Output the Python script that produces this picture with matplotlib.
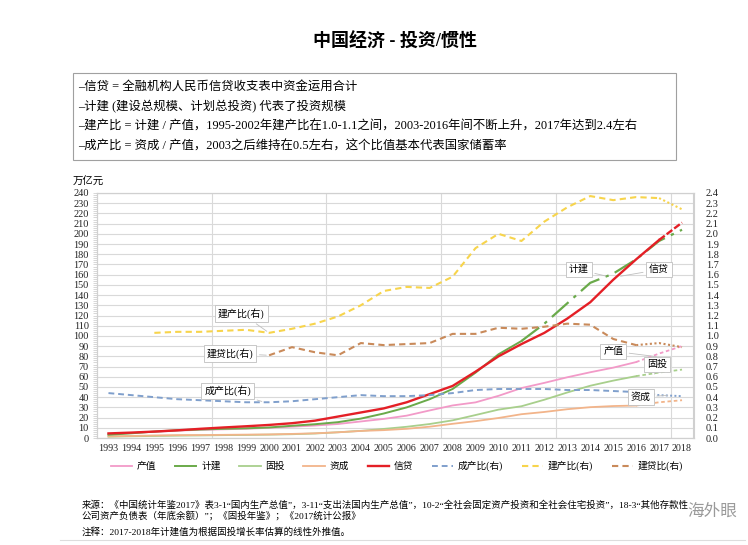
import matplotlib
matplotlib.use("Agg")
import matplotlib.pyplot as plt
import numpy as np
from matplotlib.lines import Line2D
from matplotlib.patches import Rectangle

plt.rcParams['font.family'] = ['Liberation Serif', 'Noto Sans CJK SC', 'DejaVu Sans']

years = list(range(1993, 2019))

# 万亿元 (left axis)
chanzhi = [3.5, 4.9, 6.1, 7.2, 8.0, 8.5, 9.0, 10.0, 11.1, 12.2, 13.7, 16.2, 18.7, 21.9, 27.0,
           31.9, 34.9, 41.3, 48.9, 54.0, 59.5, 64.4, 68.9, 74.4, 82.7, 90.0]
jijian = [3.2, 4.6, 6.3, 7.6, 8.3, 9.0, 9.5, 10.3, 12.0, 13.5, 15.5, 19.0, 24.0, 30.0, 38.0,
          48.0, 64.0, 82.0, 95.0, 112.0, 132.0, 152.0, 161.0, 175.0, 193.0, 204.0]
gutou = [1.3, 1.7, 2.0, 2.3, 2.5, 2.8, 3.0, 3.3, 3.7, 4.4, 5.6, 7.0, 8.9, 11.0, 13.7,
         17.3, 22.5, 27.8, 31.1, 37.5, 44.6, 51.2, 56.2, 60.6, 64.1, 67.0]
zicheng = [1.6, 2.0, 2.5, 2.8, 2.9, 3.1, 3.3, 3.5, 4.0, 4.6, 5.6, 6.9, 7.7, 9.0, 11.1,
           13.9, 16.5, 19.6, 23.3, 25.5, 28.2, 30.2, 31.3, 31.8, 35.0, 37.0]
xindai = [4.5, 5.3, 6.3, 7.5, 9.0, 10.3, 11.5, 12.8, 14.5, 17.0, 21.0, 25.0, 29.0, 35.0, 43.0,
          51.0, 65.0, 80.0, 92.0, 103.0, 117.0, 133.0, 155.0, 175.0, 194.0, 211.0]

# ratios (right axis)
chengchanbi = [0.44, 0.42, 0.40, 0.38, 0.37, 0.36, 0.35, 0.35, 0.36, 0.38, 0.40, 0.42, 0.41,
               0.41, 0.42, 0.44, 0.47, 0.48, 0.48, 0.48, 0.47, 0.47, 0.46, 0.45, 0.42, 0.41]
jianchanbi = [None, None, 1.03, 1.04, 1.04, 1.05, 1.06, 1.03, 1.07, 1.12, 1.19, 1.30, 1.44,
              1.48, 1.47, 1.58, 1.86, 2.00, 1.93, 2.12, 2.26, 2.37, 2.33, 2.36, 2.35, 2.24]
jiandaibi = [None] * 7 + [0.81, 0.89, 0.84, 0.81, 0.93, 0.91, 0.92, 0.93, 1.02, 1.02, 1.08,
                          1.07, 1.09, 1.12, 1.11, 0.97, 0.91, 0.93, 0.89]

labels = ['产值', '计建', '固投', '资成', '信贷', '成产比(右)', '建产比(右)', '建贷比(右)']
colors = ['#f29ac8', '#6aaa4a', '#a8cf8c', '#f2b48a', '#e41f26', '#7f9fcc', '#f7d44c', '#c98a5a']

fig = plt.figure(figsize=(7.48, 5.45), dpi=100)
ax = fig.add_axes([97 / 748, 1 - 438 / 545, (693.5 - 97) / 748, (438 - 193) / 545])
ax2 = ax.twinx()

ax.set_xlim(1992.5, 2018.5)
ax.set_ylim(0, 240)
ax2.set_ylim(0, 2.4)

ax.set_yticks(np.arange(0, 241, 10))
ax2.set_yticks(np.arange(0, 2.41, 0.1))
ax2.set_yticklabels([f"{v:.1f}" for v in np.arange(0, 2.41, 0.1)])
ax.set_xticks(years)
ax.set_xticklabels([str(y) for y in years])
ax.set_yticks(np.arange(0, 241, 2), minor=True)

for a in (ax, ax2):
    for s in a.spines.values():
        s.set_color('#d0d0d0')
        s.set_linewidth(0.8)
    a.tick_params(labelsize=7.4, colors='#222222', length=0, pad=3)
ax.tick_params(axis='y', which='minor', length=3, color='#c8c8c8', width=0.5)
ax.tick_params(axis='y', which='major', length=3, color='#c8c8c8', width=0.5)
ax.tick_params(axis='x', pad=4, labelsize=7.2)
ax2.tick_params(axis='y', pad=9)

ax.grid(axis='y', color='#d9d9d9', linewidth=0.8)
ax.set_axisbelow(True)
for xv in [1997.5, 2002.5, 2007.5, 2012.5, 2017.5]:
    ax.axvline(xv, color='#d9d9d9', linewidth=0.8, zorder=0)

yrs = np.array(years)


def split_plot(a, vals, color, lw, solid_ls, proj_ls, cut, z=3):
    v = np.array([np.nan if x is None else x for x in vals], dtype=float)
    i = years.index(cut)
    a.plot(yrs[:i + 1], v[:i + 1], color=color, lw=lw, ls=solid_ls, zorder=z)
    a.plot(yrs[i:], v[i:], color=color, lw=lw, ls=proj_ls, zorder=z)


split_plot(ax, chanzhi, colors[0], 1.3, '-', (0, (2, 1.5)), 2016)
split_plot(ax, gutou, colors[2], 1.3, '-', (0, (2, 1.5)), 2016)
split_plot(ax, zicheng, colors[3], 1.3, '-', (0, (2, 1.5)), 2016)
# 计建: solid to 2011, long dash-dot after
v = np.array(jijian)
i = years.index(2011)
ax.plot(yrs[:i + 1], v[:i + 1], color=colors[1], lw=1.4, zorder=4)
ax.plot(yrs[i:], v[i:], color=colors[1], lw=1.6, ls=(0, (10, 3, 1.5, 3)), zorder=4)
split_plot(ax, xindai, colors[4], 1.7, '-', (0, (3, 1)), 2017, z=5)

split_plot(ax2, chengchanbi, colors[5], 1.4, (0, (3, 2)), (0, (1, 1.2)), 2016)
split_plot(ax2, jianchanbi, colors[6], 1.5, (0, (3, 2)), (0, (1, 1.2)), 2017)
split_plot(ax2, jiandaibi, colors[7], 1.5, (0, (3, 2)), (0, (1, 1.2)), 2016)

# legend
handles = [
    Line2D([], [], color=colors[0], lw=1.3),
    Line2D([], [], color=colors[1], lw=1.4),
    Line2D([], [], color=colors[2], lw=1.3),
    Line2D([], [], color=colors[3], lw=1.3),
    Line2D([], [], color=colors[4], lw=1.7),
    Line2D([], [], color=colors[5], lw=1.4, ls=(0, (3, 2))),
    Line2D([], [], color=colors[6], lw=1.5, ls=(0, (3, 2))),
    Line2D([], [], color=colors[7], lw=1.5, ls=(0, (3, 2))),
]
fig.legend(handles, labels, loc='center', bbox_to_anchor=(397 / 748, 1 - 466 / 545), ncol=8,
           frameon=False, fontsize=7, handlelength=2.2, columnspacing=1.9, handletextpad=0.5)

# callouts
box = dict(boxstyle='square,pad=0.3', fc='white', ec='#bfbfbf', lw=0.6)
arr = dict(arrowstyle='-', color='#bfbfbf', lw=0.6)


def callout(a, text, x, y, tx, ty):
    a.annotate(text, xy=(x, y), xytext=(tx, ty), fontsize=7.2, bbox=box,
               arrowprops=arr, ha='center', va='center', zorder=10)


callout(ax2, '建产比(右)', 2000, jianchanbi[years.index(2000)], 1998.8, 1.22)
callout(ax2, '建贷比(右)', 2000, jiandaibi[years.index(2000)], 1998.3, 0.83)
callout(ax2, '成产比(右)', 1999.8, chengchanbi[years.index(2000)], 1998.2, 0.46)
callout(ax, '计建', 2014.8, 158, 2013.5, 165)
callout(ax, '信贷', 2015.2, 158, 2017.0, 165)
callout(ax, '产值', 2017.0, chanzhi[years.index(2016)] + 5, 2015.0, 85)
callout(ax, '固投', 2016.8, gutou[years.index(2016)] + 2, 2016.9, 72)
callout(ax2, '资成', 2017.5, chengchanbi[years.index(2017)], 2016.2, 0.40)

fig.text(88 / 748, 1 - 182 / 545, '万亿元', fontsize=7.5, ha='center', va='center')

# title
fig.text(395 / 748, 1 - 42 / 545, '中国经济 - 投资/惯性', fontsize=13, fontweight='bold',
         ha='center', va='center')

# description box
fig.patches.append(Rectangle((73 / 748, 1 - 160 / 545), (676 - 73) / 748, (160 - 73) / 545,
                             transform=fig.transFigure, fill=False, ec='#a0a0a0', lw=0.8))
desc = ['–信贷 = 全融机构人民币信贷收支表中资金运用合计',
        '–计建 (建设总规模、计划总投资) 代表了投资规模',
        '–建产比 = 计建 / 产值，1995-2002年建产比在1.0-1.1之间，2003-2016年间不断上升，2017年达到2.4左右',
        '–成产比 = 资成 / 产值，2003之后维持在0.5左右，这个比值基本代表国家储蓄率']
for k, t in enumerate(desc):
    fig.text(78 / 748, 1 - (87 + 20 * k) / 545, t, fontsize=8.9, ha='left', va='center')

# footnotes
fig.text(82 / 748, 1 - 505 / 545,
         '来源：《中国统计年鉴2017》表3-1“国内生产总值”，3-11“支出法国内生产总值”，10-2“全社会固定资产投资和全社会住宅投资”，18-3“其他存款性',
         fontsize=6.8, ha='left', va='center')
fig.text(82 / 748, 1 - 516 / 545, '公司资产负债表（年底余额）”；《固投年鉴》；《2017统计公报》',
         fontsize=6.8, ha='left', va='center')
fig.text(82 / 748, 1 - 532 / 545, '注释：2017-2018年计建值为根据固投增长率估算的线性外推值。',
         fontsize=6.8, ha='left', va='center')
fig.text(712 / 748, 1 - 512 / 545, '海外眼', fontsize=12, color='#9a9a9a', ha='center', va='center')
fig.lines.append(Line2D([60 / 748, 745 / 748], [1 - 540 / 545, 1 - 540 / 545],
                        transform=fig.transFigure, color='#dddddd', lw=0.8))

fig.savefig('out.png', dpi=100)
